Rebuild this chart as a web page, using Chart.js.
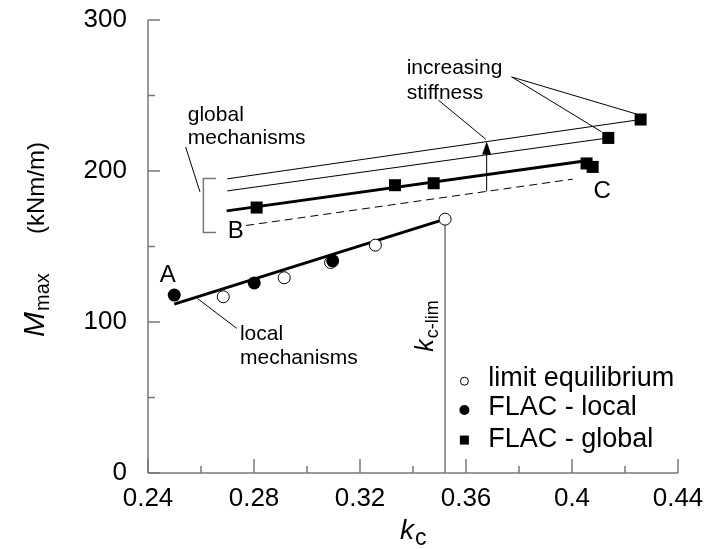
<!DOCTYPE html>
<html>
<head>
<meta charset="utf-8">
<script src="https://cdn.jsdelivr.net/npm/chart.js@4/dist/chart.umd.min.js"></script>
<style>
html, body { margin: 0; padding: 0; background: #fff; }
#contGrafico { width: 705px; height: 549px; }
</style>
</head>
<body>
<div id="contGrafico"><canvas id="graficoMmax"></canvas></div>
<script>
// Datos
const limiteX = [0.2684, 0.2914, 0.3089, 0.3258, 0.3521];
const limiteY = [116.7, 129.3, 139.4, 150.9, 168.1];

const flacLocalX = [0.2499, 0.2801, 0.3097];
const flacLocalY = [117.8, 125.9, 140.5];

const flacGlobalX = [0.2810, 0.3332, 0.3478, 0.4055, 0.4078, 0.4137, 0.4259];
const flacGlobalY = [175.8, 190.6, 191.9, 205.0, 202.7, 221.9, 234.1];

// rectas (inicio, fin)
const ajusteLocalX = [0.2499, 0.3521];
const ajusteLocalY = [111.8, 168.1];
const ajusteGlobalX = [0.2697, 0.4040];
const ajusteGlobalY = [173.6, 206.5];
const rigidezAltaX = [0.2699, 0.4259];
const rigidezAltaY = [194.8, 234.1];
const rigidezMediaX = [0.2699, 0.4137];
const rigidezMediaY = [186.8, 221.9];
const rigidezBajaX = [0.2770, 0.4003];
const rigidezBajaY = [163.9, 194.6];
const kcLim = 0.3521;

const ticksX = [0.24, 0.28, 0.32, 0.36, 0.40, 0.44];
const menoresX = [0.26, 0.30, 0.34, 0.38, 0.42];
const ticksY = [0, 100, 200, 300];
const menoresY = [50, 150, 250];

const fuente = "'Liberation Sans', Arial, sans-serif";
const gris = '#777';

const puntos = (xs, ys) => xs.map((v, i) => ({ x: v, y: ys[i] }));

function subindice(ctx, base, sub, x, y, tam, tamSub, baja) {
	ctx.font = 'italic ' + tam + 'px ' + fuente;
	ctx.fillText(base, x, y);
	const w = ctx.measureText(base).width;
	ctx.font = tamSub + 'px ' + fuente;
	ctx.fillText(sub, x + w + 1, y + baja);
	return w + 1 + ctx.measureText(sub).width;
}

function linea(ctx, x0, y0, x1, y1) {
	ctx.beginPath();
	ctx.moveTo(x0, y0);
	ctx.lineTo(x1, y1);
	ctx.stroke();
}

const ejes = {
	id: 'ejes',
	beforeDatasetsDraw(chart) {
		const { ctx, scales: { x, y } } = chart;
		const x0 = x.getPixelForValue(0.24), x1 = x.getPixelForValue(0.44);
		const y0 = y.getPixelForValue(0), y1 = y.getPixelForValue(300);
		ctx.save();
		ctx.strokeStyle = gris;
		ctx.lineWidth = 1.5;
		linea(ctx, x0, y0, x1, y0);
		linea(ctx, x0, y0, x0, y1);
		ticksX.forEach(v => linea(ctx, x.getPixelForValue(v), y0, x.getPixelForValue(v), y0 - 14));
		menoresX.forEach(v => linea(ctx, x.getPixelForValue(v), y0, x.getPixelForValue(v), y0 - 7));
		ticksY.forEach(v => linea(ctx, x0, y.getPixelForValue(v), x0 + 12, y.getPixelForValue(v)));
		menoresY.forEach(v => linea(ctx, x0, y.getPixelForValue(v), x0 + 7, y.getPixelForValue(v)));
		ctx.restore();
	}
};

const anotaciones = {
	id: 'anotaciones',
	afterDatasetsDraw(chart) {
		const { ctx, scales: { x, y } } = chart;
		const px = v => x.getPixelForValue(v);
		const py = v => y.getPixelForValue(v);
		ctx.save();
		ctx.fillStyle = '#000';
		ctx.strokeStyle = '#000';
		ctx.textBaseline = 'alphabetic';

		// flecha de rigidez creciente
		ctx.lineWidth = 1;
		const xa = 0.3678;
		linea(ctx, px(xa), py(186.5), px(xa), py(219.5) + 10);
		ctx.beginPath();
		ctx.moveTo(px(xa), py(219.5));
		ctx.lineTo(px(xa) - 4.5, py(219.5) + 13);
		ctx.lineTo(px(xa) + 4.5, py(219.5) + 13);
		ctx.closePath();
		ctx.fill();

		// lineas guia
		linea(ctx, px(0.3496), py(246.9), px(0.3675), py(221.0));
		linea(ctx, px(0.3772), py(262.3), px(0.4259), py(236.9));
		linea(ctx, px(0.3772), py(262.3), px(0.4112), py(225.9));
		linea(ctx, px(0.2542), py(215.9), px(0.2596), py(186.2));
		linea(ctx, px(0.2586), py(115.6), px(0.2735), py(95.8));

		// corchete
		ctx.strokeStyle = gris;
		ctx.lineWidth = 1.5;
		ctx.beginPath();
		ctx.moveTo(px(0.2657), py(195.0));
		ctx.lineTo(px(0.2609), py(195.0));
		ctx.lineTo(px(0.2609), py(159.3));
		ctx.lineTo(px(0.2657), py(159.3));
		ctx.stroke();

		// textos
		ctx.font = '21px ' + fuente;
		ctx.fillText('global', px(0.2550), py(233.2));
		ctx.fillText('mechanisms', px(0.2550), py(218.2));
		ctx.fillText('local', px(0.2747), py(88.0));
		ctx.fillText('mechanisms', px(0.2747), py(72.1));
		ctx.fillText('increasing', px(0.3376), py(264.1));
		ctx.fillText('stiffness', px(0.3376), py(248.0));

		ctx.font = '24px ' + fuente;
		ctx.textAlign = 'center';
		ctx.textBaseline = 'middle';
		ctx.fillText('A', px(0.2475), py(131.0));
		ctx.fillText('B', px(0.2731), py(159.7));
		ctx.fillText('C', px(0.4114), py(186.2));
		ctx.textAlign = 'left';
		ctx.textBaseline = 'alphabetic';

		// k_c-lim vertical
		ctx.save();
		ctx.translate(px(0.3477), py(80.3));
		ctx.rotate(-Math.PI / 2);
		subindice(ctx, 'k', 'c-lim', 0, 0, 25, 18, 5);
		ctx.restore();

		// leyenda
		const lx = px(0.3594), tx = px(0.3684);
		ctx.lineWidth = 1;
		ctx.strokeStyle = '#000';
		ctx.beginPath();
		ctx.arc(lx, py(60.8), 4, 0, Math.PI * 2);
		ctx.stroke();
		ctx.beginPath();
		ctx.arc(lx, py(41.7), 5, 0, Math.PI * 2);
		ctx.fill();
		ctx.fillRect(lx - 4.5, py(21.8) - 4.5, 9, 9);
		ctx.font = '27px ' + fuente;
		ctx.fillText('limit equilibrium', tx, py(57.6));
		ctx.fillText('FLAC - local', tx, py(38.4));
		ctx.fillText('FLAC - global', tx, py(17.0));

		// titulos de ejes
		subindice(ctx, 'k', 'c', 400, 539, 28, 23, 6);
		ctx.save();
		ctx.translate(44, 337);
		ctx.rotate(-Math.PI / 2);
		subindice(ctx, 'M', 'max', 0, 0, 30, 20, 5);
		ctx.font = '24px ' + fuente;
		ctx.fillText('(kNm/m)', 103, 0);
		ctx.restore();

		ctx.restore();
	}
};

const rectaBase = { showLine: true, pointRadius: 0, borderColor: '#000', fill: false, order: 5 };

new Chart(document.getElementById('graficoMmax'), {
	type: 'scatter',
	data: {
		datasets: [
			{
				label: 'FLAC - local',
				data: puntos(flacLocalX, flacLocalY),
				pointStyle: 'circle',
				pointRadius: 6.5,
				backgroundColor: '#000',
				borderColor: '#000',
				borderWidth: 0,
				order: 1
			},
			{
				label: 'limit equilibrium',
				data: puntos(limiteX, limiteY),
				pointStyle: 'circle',
				pointRadius: 6,
				backgroundColor: '#fff',
				borderColor: '#000',
				borderWidth: 1,
				order: 2
			},
			{
				label: 'FLAC - global',
				data: puntos(flacGlobalX, flacGlobalY),
				pointStyle: 'rect',
				pointRadius: 8.5,
				backgroundColor: '#000',
				borderColor: '#000',
				borderWidth: 0,
				order: 3
			},
			{ ...rectaBase, label: 'local', data: puntos(ajusteLocalX, ajusteLocalY), borderWidth: 3 },
			{ ...rectaBase, label: 'global', data: puntos(ajusteGlobalX, ajusteGlobalY), borderWidth: 3 },
			{ ...rectaBase, label: 'alta', data: puntos(rigidezAltaX, rigidezAltaY), borderWidth: 1 },
			{ ...rectaBase, label: 'media', data: puntos(rigidezMediaX, rigidezMediaY), borderWidth: 1 },
			{ ...rectaBase, label: 'baja', data: puntos(rigidezBajaX, rigidezBajaY), borderWidth: 1, borderDash: [8, 5] },
			{ ...rectaBase, label: 'kc-lim', data: [{ x: kcLim, y: 0 }, { x: kcLim, y: limiteY[limiteY.length - 1] - 4 }], borderWidth: 1.5, borderColor: gris, order: 6 }
		]
	},
	options: {
		responsive: true,
		maintainAspectRatio: false,
		animation: false,
		devicePixelRatio: 1,
		layout: { padding: { top: 20, right: 27, left: 0, bottom: 0 } },
		plugins: {
			legend: { display: false },
			tooltip: { enabled: false }
		},
		scales: {
			x: {
				type: 'linear',
				min: 0.24,
				max: 0.44,
				afterBuildTicks: s => { s.ticks = ticksX.map(v => ({ value: v })); },
				afterFit: s => { s.height = 76; s.paddingLeft = 0; s.paddingRight = 0; },
				grid: { display: false, drawTicks: false },
				border: { display: false },
				ticks: {
					padding: 10,
					color: '#000',
					font: { family: fuente, size: 26 },
					maxRotation: 0,
					callback: v => String(+v.toFixed(2))
				}
			},
			y: {
				type: 'linear',
				min: 0,
				max: 300,
				afterBuildTicks: s => { s.ticks = ticksY.map(v => ({ value: v })); },
				afterFit: s => { s.width = 148; s.paddingTop = 0; s.paddingBottom = 0; },
				grid: { display: false, drawTicks: false },
				border: { display: false },
				ticks: {
					padding: 21,
					color: '#000',
					font: { family: fuente, size: 26 },
					callback: v => String(v)
				}
			}
		}
	},
	plugins: [ejes, anotaciones]
});
</script>
</body>
</html>
